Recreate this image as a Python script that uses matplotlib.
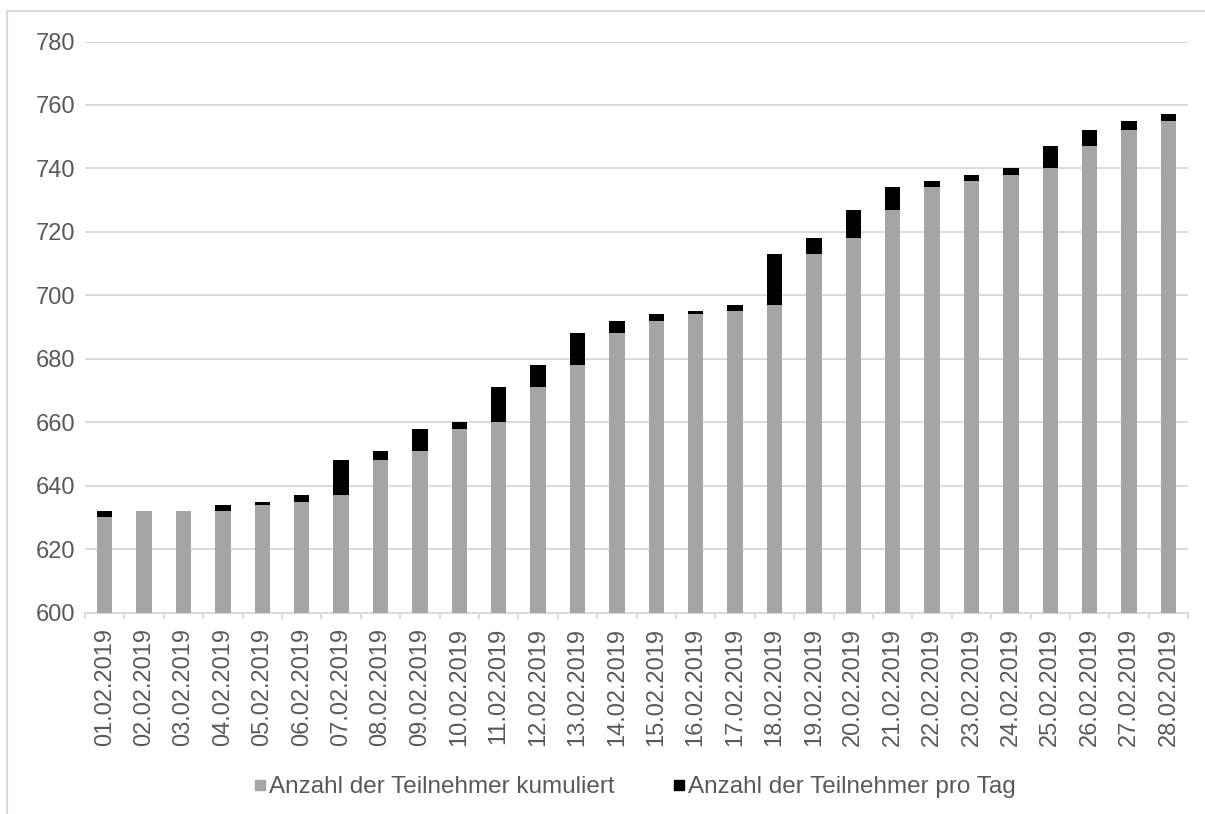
import matplotlib.pyplot as plt
from matplotlib.lines import Line2D

plt.rcParams['font.family'] = ['Liberation Sans', 'DejaVu Sans']

dates = ['%02d.02.2019' % d for d in range(1, 29)]
kumuliert = [630, 632, 632, 632, 634, 635, 637, 648, 651, 658, 660, 671, 678, 688,
             692, 694, 695, 697, 713, 718, 727, 734, 736, 738, 740, 747, 752, 755]
pro_tag = [2, 0, 0, 2, 1, 2, 11, 3, 7, 2, 11, 7, 10, 4,
           2, 1, 2, 16, 5, 9, 7, 2, 2, 2, 7, 5, 3, 2]

grau = '#a5a5a5'
text_col = '#595959'
linie = '#d9d9d9'

fig = plt.figure(figsize=(12.05, 8.14), dpi=100)
ax = fig.add_axes([0.0705, 0.2475, 0.9155, 0.7015])

x = range(len(dates))
ax.bar(x, kumuliert, width=0.39, color=grau, zorder=3)
ax.bar(x, pro_tag, width=0.39, bottom=kumuliert, color='black', zorder=3)

ax.set_ylim(600, 780)
ax.set_xlim(-0.5, len(dates) - 0.5)
ax.set_yticks(range(600, 781, 20))
ax.grid(axis='y', color=linie, linewidth=1.4, zorder=0)

ax.set_xticks(list(x))
ax.set_xticklabels(dates, rotation=90, va='top', ha='center')
ax.set_xticks([i - 0.5 for i in range(len(dates) + 1)], minor=True)
ax.tick_params(axis='x', which='major', length=0, pad=11, labelsize=17, labelcolor=text_col)
ax.tick_params(axis='x', which='minor', length=4.5, width=1.4, color=linie)
ax.tick_params(axis='y', length=0, pad=7, labelsize=17, labelcolor=text_col)

for s in ['top', 'right', 'left']:
    ax.spines[s].set_visible(False)
ax.spines['bottom'].set_color(linie)
ax.spines['bottom'].set_linewidth(1.4)

handles = [Line2D([], [], marker='s', linestyle='', markersize=7.5, color=grau),
           Line2D([], [], marker='s', linestyle='', markersize=7.5, color='black')]
fig.legend(handles, ['Anzahl der Teilnehmer kumuliert', 'Anzahl der Teilnehmer pro Tag'],
           loc='center', bbox_to_anchor=(0.527, 0.033), ncol=2, frameon=False,
           fontsize=17.5, labelcolor=text_col, handlelength=0.5, handletextpad=0.12,
           columnspacing=2.4)

# Rahmen des Diagrammbereichs (oben und links)
fig.add_artist(Line2D([7.5 / 1205, 1.0], [1 - 11 / 814, 1 - 11 / 814],
                      color=linie, linewidth=1.5, transform=fig.transFigure))
fig.add_artist(Line2D([7.5 / 1205, 7.5 / 1205], [0.0, 1 - 11 / 814],
                      color=linie, linewidth=1.5, transform=fig.transFigure))

fig.savefig('out.png', dpi=100)
